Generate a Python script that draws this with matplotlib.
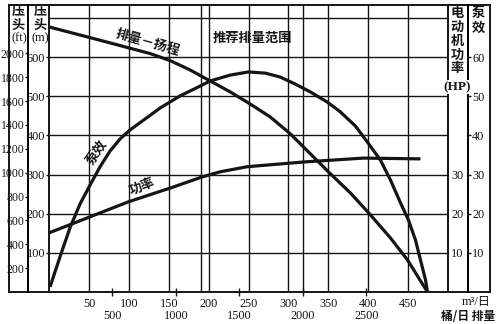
import matplotlib
matplotlib.use('Agg')
import matplotlib.pyplot as plt
from matplotlib.lines import Line2D

# discharge in m3/day, head in m
head_q = [0, 64.0, 126.7, 151.8, 176.9, 202.0, 227.1, 252.2, 277.3, 302.4, 327.5, 352.6,
          377.7, 402.8, 427.9, 449.2, 461.7, 474.3]
head_m = [677, 643, 609, 591, 567, 539, 511, 480, 447, 404, 353, 302,
          253, 197, 138, 82, 41, 0]

# pump efficiency, %
eff_q = [1.3, 13.8, 26.3, 38.9, 51.4, 64.0, 76.5, 89.1, 101.6, 120.5, 139.3, 164.4, 189.5,
         202.0, 227.1, 249.7, 271.0, 289.8, 308.7, 327.5, 348.8, 365.1, 383.9, 399.0, 415.3,
         427.9, 440.4, 450.4, 459.2, 465.5, 471.8, 474.3]
eff_pct = [1.3, 9.0, 16.4, 22.5, 27.3, 32.0, 36.0, 39.1, 41.4, 44.2, 47.0, 50.1, 52.6,
           53.9, 55.4, 56.2, 55.9, 54.9, 53.1, 51.1, 48.5, 46.0, 42.4, 38.3, 33.7,
           28.6, 22.8, 18.4, 13.3, 8.2, 3.1, 0]

# motor power, HP
power_q = [0, 51.4, 99.1, 155.6, 192.0, 214.6, 248.4, 318.7, 394.0, 465.5]
power_hp = [15.1, 19.2, 23.0, 26.8, 29.4, 30.7, 32.0, 33.2, 34.2, 34.0]

flow_ticks = [50, 100, 150, 200, 250, 300, 350, 400, 450]
bbl_ticks = [500, 1000, 1500, 2000, 2500]
head_m_ticks = [100, 200, 300, 400, 500, 600]
head_ft_ticks = [200, 400, 600, 800, 1000, 1200, 1400, 1600, 1800, 2000]
hp_ticks = [10, 20, 30]
eff_ticks = [10, 20, 30, 40, 50, 60]
range_bbl = [1200, 2000]

M3_PER_BBL = 0.159
FT_PER_M = 3.2808
W, H = 503, 324
INK = '#151515'
NUM = 'Liberation Serif'
CJK = 'Noto Sans CJK SC'

fig = plt.figure(figsize=(W / 100, H / 100), dpi=100)
ax = fig.add_axes([49 / W, 32 / H, 399 / W, 287 / H])
ax.set_xlim(0, 500)
ax.set_ylim(0, 733)


def px(x, y):
    return x / W, 1 - y / H


def style_labels(labels, size=9):
    for lab in labels:
        lab.set_fontfamily(NUM)
        lab.set_fontsize(size)


# grid
for q in flow_ticks:
    ax.axvline(q, color=INK, lw=1.0, zorder=1)
for b in range_bbl:
    ax.axvline(b * M3_PER_BBL, color=INK, lw=1.0, zorder=1)
for h in range(100, 800, 100):
    ax.axhline(h, color=INK, lw=1.0, zorder=1)

ax.plot(head_q, head_m, color=INK, lw=2.3, solid_capstyle='butt',
        solid_joinstyle='round', zorder=3)

for s in ['top', 'bottom']:
    ax.spines[s].set_visible(False)
for s in ['left', 'right']:
    ax.spines[s].set_linewidth(1.4)
    ax.spines[s].set_color(INK)

ax.set_yticks(head_m_ticks)
ax.tick_params(axis='y', direction='out', length=2.5, width=1, pad=0.3, colors=INK)
ax.set_xticks(flow_ticks)
ax.tick_params(axis='x', length=0, pad=4, colors=INK)
style_labels(ax.get_xticklabels() + ax.get_yticklabels(), 8.8)

# second flow scale in barrels/day
sec = ax.secondary_xaxis('bottom', functions=(lambda q: q / M3_PER_BBL, lambda b: b * M3_PER_BBL))
sec.set_xticks(bbl_ticks)
sec.tick_params(direction='inout', length=6, width=1, pad=10, colors=INK)
sec.spines['bottom'].set_visible(False)
style_labels(sec.get_xticklabels(), 8.8)

# head in feet
ax_ft = ax.twinx()
ax_ft.set_ylim(0, 733 * FT_PER_M)
ax_ft.yaxis.set_ticks_position('left')
ax_ft.spines['left'].set_position(('axes', -0.0526))
ax_ft.spines['left'].set_visible(True)
ax_ft.spines['left'].set_linewidth(1.4)
for s in ['right', 'top', 'bottom']:
    ax_ft.spines[s].set_visible(False)
ax_ft.set_yticks(head_ft_ticks)
ax_ft.tick_params(axis='y', direction='out', length=2.2, width=1, pad=0.2, colors=INK)
style_labels(ax_ft.get_yticklabels(), 8.5)

# pump efficiency
ax_eff = ax.twinx()
ax_eff.set_ylim(0, 73.3)
ax_eff.spines['right'].set_position(('axes', 1.0501))
ax_eff.spines['right'].set_linewidth(1.4)
for s in ['left', 'top', 'bottom']:
    ax_eff.spines[s].set_visible(False)
ax_eff.set_yticks(eff_ticks)
ax_eff.tick_params(axis='y', direction='out', length=2.5, width=1, pad=0.5, colors=INK)
style_labels(ax_eff.get_yticklabels(), 8.8)
ax_eff.plot(eff_q, eff_pct, color=INK, lw=2.3, solid_capstyle='butt',
            solid_joinstyle='round', zorder=3)

# motor power
ax_hp = ax.twinx()
ax_hp.set_ylim(0, 73.3)
ax_hp.yaxis.set_ticks_position('left')
ax_hp.spines['left'].set_position(('axes', 1.0501))
for s in ['left', 'right', 'top', 'bottom']:
    ax_hp.spines[s].set_visible(False)
ax_hp.set_yticks(hp_ticks)
ax_hp.tick_params(axis='y', length=0, pad=3.5, colors=INK)
style_labels(ax_hp.get_yticklabels(), 8.8)
ax_hp.plot(power_q, power_hp, color=INK, lw=2.3, solid_capstyle='butt',
           solid_joinstyle='round', zorder=3)

# outer frame
x0, x1 = -0.1003, 1.1053
for xs, ys in [([x0, x0], [0, 1]), ([x1, x1], [0, 1]), ([x0, x1], [1, 1]), ([x0, x1], [0, 0])]:
    ax.add_line(Line2D(xs, ys, transform=ax.transAxes, color=INK, lw=1.4, clip_on=False, zorder=5))

cjk_kw = dict(family=CJK, fontsize=9.5, fontweight='bold', color=INK, ha='center', va='center')

# curve labels
fig.text(*px(148, 42), '排量－扬程', rotation=-16, **cjk_kw)
fig.text(*px(97, 152), '泵效', rotation=56, **cjk_kw)
fig.text(*px(142, 186), '功率', rotation=22, **cjk_kw)
fig.text(*px(252, 38), '推荐排量范围', **cjk_kw)

# column headers
for i, ch in enumerate('压头'):
    fig.text(*px(18, 11 + 13.5 * i), ch, **cjk_kw)
    fig.text(*px(40, 11 + 13.5 * i), ch, **cjk_kw)
fig.text(*px(19, 38), '(ft)', family=NUM, fontsize=9, color=INK, ha='center', va='center')
fig.text(*px(40, 38), '(m)', family=NUM, fontsize=9, color=INK, ha='center', va='center')
for i, ch in enumerate('电动机功率'):
    fig.text(*px(457, 13 + 13.8 * i), ch, **cjk_kw)
fig.text(*px(457, 87), '(HP)', family=NUM, fontsize=9.5, fontweight='bold', color=INK,
         ha='center', va='center', bbox=dict(facecolor='white', edgecolor='none', pad=0.5))
for i, ch in enumerate('泵效'):
    fig.text(*px(478, 13 + 14.5 * i), ch, **cjk_kw)

# flow unit labels
fig.text(*px(476, 302), 'm³/日', family=[NUM, CJK], fontsize=8.8, color=INK,
         ha='center', va='center')
fig.text(*px(468, 317), '桶/日 排量', family=CJK, fontsize=8.5, fontweight='bold', color=INK,
         ha='center', va='center')

fig.savefig('out.png', dpi=100, facecolor='white')
